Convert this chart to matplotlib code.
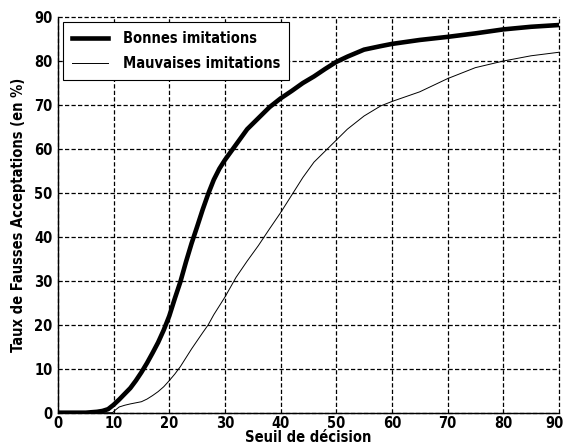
import matplotlib
matplotlib.use("Agg")
import matplotlib.pyplot as plt
from matplotlib.transforms import ScaledTranslation

plt.rcParams['font.family'] = ['DejaVu Sans']
plt.rcParams['font.stretch'] = 'condensed'
plt.rcParams['font.weight'] = 'bold'

# seuil -> taux FA (bonnes imitations)
x_bonnes = [0, 5, 7, 8, 9, 10, 11, 12, 13, 14, 15, 16, 17, 18, 19, 20, 21, 22, 23, 24, 25, 26, 27, 28,
            29, 30, 32, 34, 36, 38, 40, 42, 44, 46, 48, 50, 52, 55, 58, 60, 65, 70, 75, 80, 85, 90]
y_bonnes = [0, 0, 0.2, 0.4, 0.8, 1.8, 3.0, 4.3, 5.6, 7.3, 9.2, 11.3, 13.6, 16.0, 18.8, 22.0, 26.0, 29.8,
            34.3, 38.5, 42.3, 46.2, 49.8, 53.0, 55.5, 57.5, 61.0, 64.5, 67.0, 69.5, 71.5, 73.2, 75.0, 76.5,
            78.2, 79.8, 81.0, 82.6, 83.4, 83.9, 84.8, 85.5, 86.3, 87.2, 87.8, 88.2]

# seuil -> taux FA (mauvaises imitations)
x_mauvaises = [0, 9.8, 10.3, 11, 12, 13, 15, 16, 17, 18, 19, 20, 21, 22, 24, 26, 27, 28, 30, 32, 34, 36, 38,
               40, 42, 44, 46, 48, 50, 52, 55, 58, 60, 65, 70, 75, 80, 85, 90]
y_mauvaises = [0, 0, 0.6, 1.3, 1.7, 2.0, 2.5, 3.1, 3.9, 4.8, 5.9, 7.3, 8.8, 10.5, 14.5, 18.2, 20.0, 22.3,
               26.3, 30.8, 34.5, 38.0, 41.8, 45.5, 49.5, 53.5, 57.0, 59.5, 62.0, 64.5, 67.5, 69.8, 70.8,
               73.0, 76.0, 78.5, 80.0, 81.2, 82.0]

xticks = [0, 10, 20, 30, 40, 50, 60, 70, 80, 90]
yticks = [0, 10, 20, 30, 40, 50, 60, 70, 80, 90]

fig = plt.figure(figsize=(5.64, 4.48), dpi=100)
ax = fig.add_axes([0.1028, 0.0788, 0.888, 0.883])

ax.plot(x_bonnes, y_bonnes, color='black', lw=3.3, label='Bonnes imitations')
ax.plot(x_mauvaises, y_mauvaises, color='black', lw=0.7, label='Mauvaises imitations')

ax.set_xlim(0, 90)
ax.set_ylim(0, 90)
ax.set_xticks(xticks)
ax.set_yticks(yticks)
ax.tick_params(labelsize=10.5, length=0)
ax.tick_params(axis='x', pad=2.5)
ax.tick_params(axis='y', pad=4)
for lab in ax.get_xticklabels() + ax.get_yticklabels():
    lab.set_fontweight('bold')
    lab.set_fontstretch('condensed')
# le dernier label (90) rentre dans la figure
last = ax.get_xticklabels()[-1]
last.set_transform(last.get_transform() + ScaledTranslation(-4 / 100, 0, fig.dpi_scale_trans))

ax.grid(True, color='black', linestyle=(0, (3.4, 1.8)), linewidth=0.9)
for gl in ax.get_xgridlines() + ax.get_ygridlines():
    gl.set_clip_on(False)
ax.spines['top'].set_visible(False)
ax.spines['right'].set_visible(False)
ax.spines['left'].set_linewidth(1.0)
ax.spines['bottom'].set_linewidth(1.0)

ax.set_xlabel('Seuil de décision', fontsize=10.5, fontweight='bold', labelpad=-0.5)
ax.set_ylabel('Taux de Fausses Acceptations (en %)', fontsize=10.5, fontweight='bold', labelpad=6)

leg = ax.legend(loc='upper left', fontsize=10.5, frameon=True, fancybox=False,
                borderaxespad=0.35, handlelength=2.5, borderpad=0.6, labelspacing=0.7,
                handletextpad=1.0)
leg.get_frame().set_edgecolor('black')
leg.get_frame().set_linewidth(0.8)
leg.get_frame().set_alpha(1)
for t in leg.get_texts():
    t.set_fontweight('bold')
    t.set_fontstretch('condensed')

fig.savefig('out.png', dpi=100)
